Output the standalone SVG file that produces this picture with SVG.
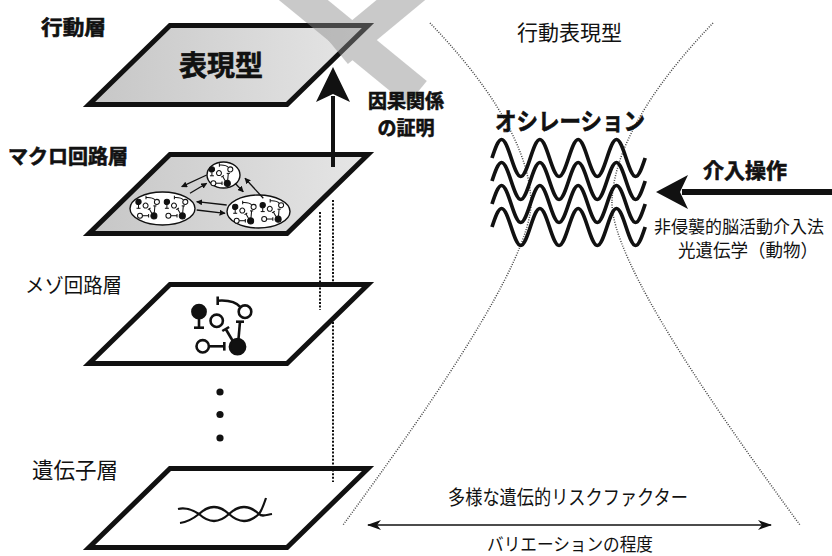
<svg xmlns="http://www.w3.org/2000/svg" xmlns:xlink="http://www.w3.org/1999/xlink" width="832" height="556" viewBox="0 0 832 556">
<defs>
<linearGradient id="gfill" x1="0" y1="0" x2="1" y2="0">
<stop offset="0" stop-color="#c6c6c6"/>
<stop offset="1" stop-color="#e6e6e6"/>
</linearGradient>
<polygon id="pg" points="170,2.5 368,2.5 287,81.5 89,81.5"/>
<g id="circuit" stroke="#111" stroke-width="2.6" fill="none">
<circle cx="-21" cy="-11.3" r="6.6" fill="#111"/>
<line x1="-21" y1="-4" x2="-21" y2="4.7"/>
<line x1="-26" y1="4.7" x2="-16" y2="4.7"/>
<circle cx="-3.3" cy="-2.2" r="6.2" fill="#fff"/>
<circle cx="25" cy="-11.3" r="6.3" fill="#fff"/>
<path d="M20.4,-15.9 Q14,-23.5 -2.3,-22.3"/>
<line x1="-2.3" y1="-26.5" x2="-2.3" y2="-18"/>
<circle cx="17.5" cy="23.7" r="7.6" fill="#111"/>
<line x1="18.5" y1="16" x2="20" y2="-1.3"/>
<line x1="16" y1="-1.3" x2="24" y2="-1.3"/>
<line x1="12.5" y1="17.5" x2="5.7" y2="6"/>
<line x1="9.1" y1="4" x2="2.3" y2="8"/>
<circle cx="-17.3" cy="23.3" r="6.2" fill="#fff"/>
<line x1="-11" y1="23.3" x2="4.3" y2="23.3"/>
<line x1="4.3" y1="19" x2="4.3" y2="27.6"/>
</g>
<path id="wave" d="M492,0 c3.115,-9.45 6.213,-18.5 9.575,-18.5 s6.46,9.05 9.575,18.5 s6.213,18.5 9.575,18.5 s6.46,-9.05 9.575,-18.5 s6.213,-18.5 9.575,-18.5 s6.46,9.05 9.575,18.5 s6.213,18.5 9.575,18.5 s6.46,-9.05 9.575,-18.5 s6.213,-18.5 9.575,-18.5 s6.46,9.05 9.575,18.5 s6.213,18.5 9.575,18.5 s6.46,-9.05 9.575,-18.5 s6.213,-18.5 9.575,-18.5 s6.46,9.05 9.575,18.5 s6.213,18.5 9.575,18.5 s6.46,-9.05 9.575,-18.5"/>
<marker id="sa" viewBox="0 0 10 10" refX="9" refY="5" markerWidth="6" markerHeight="6" orient="auto" markerUnits="userSpaceOnUse">
<path d="M0,0 L10,5 L0,10 z" fill="#111"/>
</marker>
<marker id="st" viewBox="0 0 14 10" refX="13" refY="5" markerWidth="14" markerHeight="10" orient="auto-start-reverse" markerUnits="userSpaceOnUse">
<path d="M0,0 L14,5 L0,10 L4,5 z" fill="#111"/>
</marker>
</defs>
<style>
.pg{stroke:#111;stroke-width:5;stroke-linejoin:miter;stroke-miterlimit:10}
.dot{fill:none;stroke:#444;stroke-width:1.5;stroke-dasharray:1 1.5}
.vdot{fill:none;stroke:#111;stroke-width:2;stroke-dasharray:2 1.6}
.t{font-family:"Noto Sans CJK JP","Noto Sans",sans-serif;fill:#111}
.b{font-weight:700;stroke:#111;stroke-width:0.6}
.el{fill:#fff;stroke:#111;stroke-width:1.4}
.sc{stroke:#111;stroke-width:1.3;fill:none;marker-end:url(#sa)}
.wv{fill:none;stroke:#111;stroke-width:3.7}
</style>
<rect width="832" height="556" fill="#fff"/>

<g id="hourglass">
<path class="dot" d="M430,23 C480,75 528,140 531,200 C534,260 420,420 343,525"/>
<path class="dot" d="M713,23 C663,75 615,140 612,200 C609,260 723,420 800,525"/>
</g>

<g id="layer-behavior">
<use xlink:href="#pg" href="#pg" class="pg" fill="url(#gfill)" transform="translate(0,23)"/>
<text class="t b" x="41" y="35" font-size="20" textLength="65" lengthAdjust="spacingAndGlyphs">行動層</text>
<text class="t b" x="221" y="76" font-size="28" text-anchor="middle">表現型</text>
</g>

<g id="cross-mark" stroke="#8a8a8a" stroke-width="31" opacity="0.45" stroke-linecap="butt">
<line x1="285" y1="-15" x2="417" y2="93"/>
<line x1="419" y1="-15" x2="338" y2="52"/>
</g>

<g id="layer-macro">
<use xlink:href="#pg" href="#pg" class="pg" fill="url(#gfill)" transform="translate(0,152)"/>
<text class="t b" x="8" y="164" font-size="20" textLength="120" lengthAdjust="spacingAndGlyphs">マクロ回路層</text>
<g id="macro-circuits">
<ellipse class="el" cx="223.5" cy="175" rx="16.5" ry="13"/>
<ellipse class="el" cx="162.5" cy="208.5" rx="32.5" ry="16.5"/>
<ellipse class="el" cx="258.5" cy="211.5" rx="31.5" ry="16.5"/>
<use xlink:href="#circuit" href="#circuit" transform="translate(220.3,173.9) scale(0.4)"/>
<use xlink:href="#circuit" href="#circuit" transform="translate(146.9,206.4) scale(0.4)"/>
<use xlink:href="#circuit" href="#circuit" transform="translate(175.3,206.4) scale(0.4)"/>
<use xlink:href="#circuit" href="#circuit" transform="translate(243.6,211.4) scale(0.4)"/>
<use xlink:href="#circuit" href="#circuit" transform="translate(271.1,209.7) scale(0.4)"/>
</g>
</g>

<g id="layer-meso">
<use xlink:href="#pg" href="#pg" class="pg" fill="#fff" transform="translate(0,282)"/>
<text class="t" x="25" y="293" font-size="20" textLength="97" lengthAdjust="spacingAndGlyphs">メゾ回路層</text>
<use xlink:href="#circuit" href="#circuit" transform="translate(220,323)"/>
</g>

<g id="ellipsis-dots" fill="#111">
<circle cx="220" cy="392" r="3.6"/>
<circle cx="220" cy="414.5" r="3.6"/>
<circle cx="220" cy="438" r="3.6"/>
</g>

<g id="layer-gene">
<use xlink:href="#pg" href="#pg" class="pg" fill="#fff" transform="translate(0,466)"/>
<text class="t" x="32" y="478" font-size="21.5">遺伝子層</text>
<g fill="none" stroke="#111" stroke-width="2.2">
<path d="M178,509 C187,507 193,510 199,514 C209,523.3 219,523.3 229,514 C239,504.7 249,504.7 259,514 C262,517 266,515 272,514"/>
<path d="M180,523 C188,522 194,518 199,514 C209,504.7 219,504.7 229,514 C239,523.3 249,523.3 259,514 C262,510 264,504 266,498"/>
</g>
</g>

<g id="connectors">
<line class="vdot" x1="320" y1="212" x2="320" y2="310"/>
<line class="vdot" x1="333" y1="200" x2="333" y2="282"/>
<line class="vdot" x1="333" y1="322" x2="333" y2="482"/>
<path class="sc" d="M206.7,175 L181.7,186.7"/>
<path class="sc" d="M190,193.3 L206.7,183.3"/>
<path class="sc" d="M235,183.3 L243.3,191.7"/>
<path class="sc" d="M263.3,198.3 L245,178.3"/>
<path class="sc" d="M226.7,205 L196.7,201.7"/>
<path class="sc" d="M196.7,210 L225,213.3"/>
<g id="causal-arrow">
<line x1="333" y1="96" x2="333" y2="167" stroke="#111" stroke-width="4"/>
<polygon points="333,67 350,102 333,94 316,102" fill="#111"/>
</g>
<g id="intervention-arrow">
<line x1="682" y1="192" x2="832" y2="192" stroke="#111" stroke-width="6"/>
<polygon points="656,192 688,175 680,192 688,209" fill="#111"/>
</g>
<line x1="368" y1="525" x2="771" y2="525" stroke="#111" stroke-width="1.6" marker-start="url(#st)" marker-end="url(#st)"/>
</g>

<g id="causal-label">
<text class="t b" x="406" y="108" font-size="19" text-anchor="middle">因果関係</text>
<text class="t b" x="406" y="135" font-size="19" text-anchor="middle">の証明</text>
</g>

<g id="oscillation">
<text class="t b" x="495" y="130" font-size="24" textLength="150" lengthAdjust="spacingAndGlyphs">オシレーション</text>
<use xlink:href="#wave" href="#wave" class="wv" transform="translate(0,158)"/>
<use xlink:href="#wave" href="#wave" class="wv" transform="translate(0,181)"/>
<use xlink:href="#wave" href="#wave" class="wv" transform="translate(0,204)"/>
<use xlink:href="#wave" href="#wave" class="wv" transform="translate(0,227)"/>
</g>

<g id="labels-right">
<text class="t" x="569.5" y="40" font-size="21" text-anchor="middle">行動表現型</text>
<text class="t b" x="703" y="178" font-size="21" textLength="84" lengthAdjust="spacingAndGlyphs">介入操作</text>
<text class="t" x="654" y="233" font-size="17">非侵襲的脳活動介入法</text>
<text class="t" x="678" y="257" font-size="18" textLength="140" lengthAdjust="spacingAndGlyphs">光遺伝学（動物）</text>
<text class="t" x="448" y="505" font-size="20" textLength="240" lengthAdjust="spacingAndGlyphs">多様な遺伝的リスクファクター</text>
<text class="t" x="487" y="551" font-size="18" textLength="166" lengthAdjust="spacingAndGlyphs">バリエーションの程度</text>
</g>
</svg>
